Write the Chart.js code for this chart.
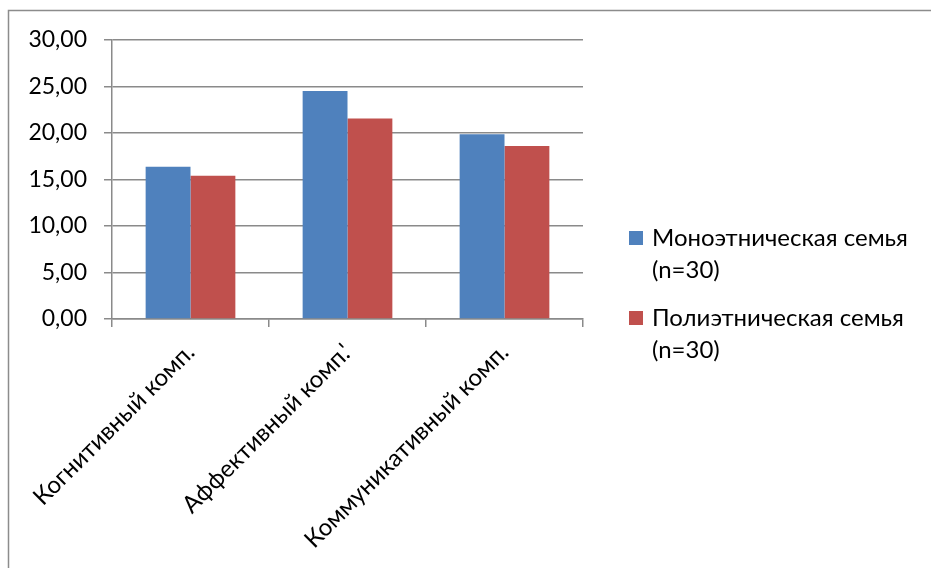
<!DOCTYPE html>
<html>
<head>
<meta charset="utf-8">
<script src="https://cdn.jsdelivr.net/npm/chart.js@4"></script>
<style>
    html, body { margin: 0; padding: 0; background: #fff; }
    #wrap { width: 931px; height: 568px; position: relative; }
</style>
</head>
<body>
<div id="wrap"><canvas id="chart" width="931" height="568"></canvas></div>
<script>
// Данные диаграммы
const categories = ["Когнитивный комп.", "Аффективный комп.'", "Коммуникативный комп."];
const monoLabel = ["Моноэтническая семья", "(n=30)"];
const polyLabel = ["Полиэтническая семья", "(n=30)"];
const monoValues = [16.37, 24.52, 19.87];
const polyValues = [15.40, 21.57, 18.61];
const yMin = 0, yMax = 30, yStep = 5;

const FONT = "Lato, 'Open Sans', sans-serif";
const GRID = "#8a8a8a";

// Рамка вокруг диаграммы
const framePlugin = {
    id: "frame",
    beforeDraw(chart) {
        let ctx = chart.ctx;
        ctx.save();
        ctx.strokeStyle = "#8c8c8c";
        ctx.lineWidth = 1.5;
        ctx.strokeRect(8.5, 10.5, 1200, 1000);
        ctx.restore();
    }
};

// Легенда справа, с переносом строк
const legendPlugin = {
    id: "sideLegend",
    afterDraw(chart) {
        let ctx = chart.ctx;
        let area = chart.chartArea;
        let x = area.right + 46;
        let y = 231;
        ctx.save();
        ctx.font = "24px " + FONT;
        ctx.textBaseline = "middle";
        chart.data.datasets.forEach((ds, i) => {
            let top = y + i * 80;
            ctx.fillStyle = ds.backgroundColor;
            ctx.fillRect(x, top, 14, 14);
            ctx.fillStyle = "#000";
            ds.label.forEach((line, j) => {
                ctx.fillText(line, x + 23, top + 7 + j * 32);
            });
        });
        ctx.restore();
    }
};

let ctx = document.getElementById("chart").getContext("2d");
let chart = new Chart(ctx, {
    type: "bar",
    data: {
        labels: categories,
        datasets: [
            { label: monoLabel, data: monoValues, backgroundColor: "#4F81BD" },
            { label: polyLabel, data: polyValues, backgroundColor: "#C0504D" }
        ]
    },
    options: {
        responsive: false,
        animation: false,
        devicePixelRatio: 1,
        layout: { padding: { top: 40, right: 348, left: 0, bottom: 0 } },
        datasets: {
            bar: { categoryPercentage: 2 / 3.5, barPercentage: 1 }
        },
        plugins: {
            legend: { display: false },
            tooltip: { enabled: false }
        },
        scales: {
            x: {
                grid: { display: true, drawOnChartArea: false, color: GRID, lineWidth: 1.5, tickLength: 8 },
                border: { display: true, color: GRID, width: 1.5 },
                ticks: {
                    color: "#000",
                    font: { family: FONT, size: 24 },
                    minRotation: 45,
                    maxRotation: 45,
                    padding: 11
                },
                afterFit(scale) { scale.height = 249; }
            },
            y: {
                min: yMin,
                max: yMax,
                grid: { color: GRID, lineWidth: 1.5, tickLength: 8 },
                border: { display: true, color: GRID, width: 1.5 },
                ticks: {
                    stepSize: yStep,
                    color: "#000",
                    font: { family: FONT, size: 23 },
                    padding: 17,
                    callback: v => v.toFixed(2).replace(".", ",")
                },
                afterFit(scale) { scale.width = 112; }
            }
        }
    },
    plugins: [framePlugin, legendPlugin]
});
</script>
</body>
</html>
